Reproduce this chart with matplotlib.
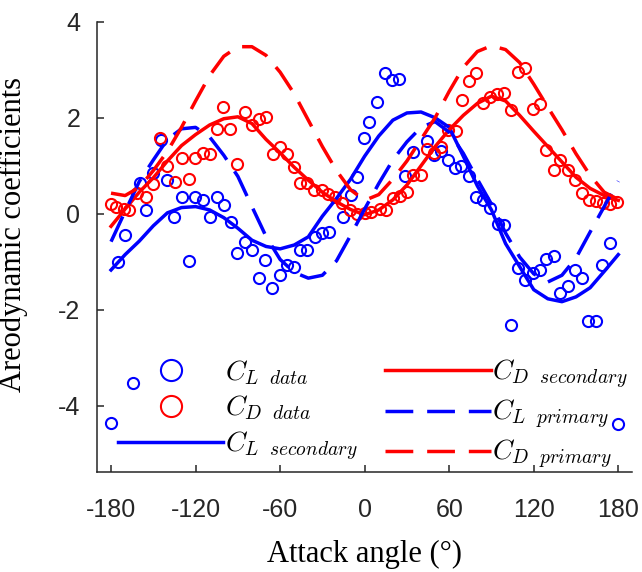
import numpy as np
import matplotlib
matplotlib.use('Agg')
import matplotlib.pyplot as plt

plt.rcParams['mathtext.fontset'] = 'cm'
plt.rcParams['axes.unicode_minus'] = False

# fitted curves, sampled every 10 degrees
ang = np.arange(-180, 181, 10)
cl_sec = [-1.17, -0.85, -0.57, -0.25, 0.02, 0.13, 0.15, 0.08, -0.08, -0.30,
          -0.55, -0.68, -0.73, -0.65, -0.48, -0.05, 0.32, 0.72, 1.20, 1.62,
          1.95, 2.10, 2.12, 2.00, 1.80, 1.20, 0.58, 0.08, -0.62, -1.10,
          -1.58, -1.77, -1.83, -1.73, -1.54, -1.20, -0.85]
cd_sec = [-0.26, 0.10, 0.45, 0.75, 1.10, 1.42, 1.65, 1.85, 1.98, 2.02,
          1.88, 1.55, 1.27, 0.97, 0.70, 0.45, 0.25, 0.09, -0.02, 0.08,
          0.29, 0.60, 1.00, 1.40, 1.75, 2.05, 2.30, 2.45, 2.35, 2.05,
          1.72, 1.40, 1.08, 0.76, 0.53, 0.38, 0.28]
cl_pri = [-0.58, 0.05, 0.67, 1.12, 1.55, 1.77, 1.80, 1.60, 1.22, 0.78,
          0.15, -0.47, -0.95, -1.22, -1.34, -1.28, -0.98, -0.45, 0.10, 0.63,
          1.12, 1.50, 1.80, 1.92, 1.70, 1.26, 0.72, 0.20, -0.40, -0.90,
          -1.25, -1.42, -1.28, -0.92, -0.38, 0.15, 0.68]
cd_pri = [0.43, 0.38, 0.55, 0.90, 1.30, 1.80, 2.35, 2.88, 3.28, 3.48,
          3.48, 3.30, 2.95, 2.50, 1.95, 1.40, 0.90, 0.50, 0.28, 0.40,
          0.72, 1.10, 1.55, 2.00, 2.55, 3.05, 3.38, 3.50, 3.42, 3.15,
          2.70, 2.22, 1.75, 1.25, 0.80, 0.45, 0.30]

# measured data
cl_ang = [-180, -175.1, -170.3, -164.7, -159.7, -154.9, -150.2, -144.5, -140.1, -135.1,
          -129.9, -124.6, -120.5, -114.5, -109.8, -105.0, -99.8, -94.8, -90.9, -84.8,
          -80.0, -75.3, -70.6, -65.8, -60.1, -54.9, -50.1, -45.6, -40.6, -34.9,
          -30.1, -25.2, -15.7, -10.0, -5.2, -0.7, 2.9, 9.1, 14.3, 19.5,
          24.2, 28.5, 34.0, 44.2, 49.4, 54.2, 59.2, 63.9, 68.6, 73.8,
          79.1, 84.2, 89.1, 94.3, 99.1, 104.1, 109.1, 113.5, 119.5, 124.2,
          128.8, 134.1, 138.8, 144.0, 149.2, 154.0, 158.7, 164.4, 168.2, 173.9,
          180]
cl_val = [-4.35, -1.01, -0.44, -3.52, 0.64, 0.08, 0.85, 1.54, 0.71, -0.06,
          0.35, -0.99, 0.35, 0.29, -0.06, 0.36, 0.19, -0.18, -0.82, -0.58,
          -0.75, -1.33, -0.96, -1.54, -1.28, -1.07, -1.10, -0.75, -0.75, -0.49,
          -0.40, -0.37, -0.07, 0.39, 0.76, 1.58, 1.92, 2.33, 2.94, 2.79,
          2.81, 0.78, 1.29, 1.51, 1.23, 1.30, 1.12, 0.95, 1.00, 0.79,
          0.36, 0.29, 0.12, -0.22, -0.23, -2.32, -1.12, -1.37, -1.24, -1.16,
          -0.94, -0.87, -1.65, -1.51, -1.16, -1.33, -2.24, -2.24, -1.06, -0.60,
          -4.38]
cd_ang = [-180, -176.3, -171.1, -167.5, -161.4, -155.4, -150.2, -145.5, -140.6, -134.7,
          -129.9, -124.7, -120.2, -114.9, -109.8, -105.0, -100.3, -95.5, -90.9, -85.0,
          -80.3, -75.3, -70.3, -65.4, -59.9, -55.1, -50.1, -45.6, -40.6, -35.9,
          -30.5, -25.8, -20.7, -15.9, -10.7, -5.2, 0.0, 4.3, 10.7, 15.0,
          20.3, 25.1, 29.8, 34.6, 39.9, 44.0, 49.4, 54.2, 58.9, 64.5,
          69.4, 74.1, 79.1, 84.1, 88.9, 93.7, 98.7, 104.1, 108.8, 113.8,
          119.5, 124.2, 129.0, 134.1, 138.8, 144.0, 149.0, 154.0, 158.9, 164.3,
          169.4, 174.1, 178.9]
cd_val = [0.21, 0.14, 0.09, 0.08, 0.43, 0.34, 0.62, 1.58, 1.00, 0.66,
          1.16, 0.73, 1.16, 1.26, 1.25, 1.76, 2.23, 1.76, 1.03, 2.11,
          1.84, 1.98, 2.01, 1.25, 1.39, 1.24, 0.97, 0.65, 0.65, 0.50,
          0.49, 0.42, 0.36, 0.23, 0.08, 0.00, 0.01, 0.04, 0.10, 0.08,
          0.32, 0.38, 0.46, 0.81, 0.81, 1.35, 1.26, 1.40, 1.75, 1.72,
          2.37, 2.76, 2.93, 2.31, 2.43, 2.50, 2.52, 2.17, 2.96, 3.03,
          2.19, 2.29, 1.33, 0.91, 1.12, 0.92, 0.70, 0.44, 0.29, 0.26,
          0.22, 0.21, 0.24]

fig = plt.figure(figsize=(6.42, 5.72), dpi=100)
ax = fig.add_axes([0.151, 0.175, 0.834, 0.787])

mk = dict(marker='o', ms=8, mfc='none', mew=1.5, ls='none')
lw = 2.5
dash = (0, (8, 4))
ax.plot(cl_ang, cl_val, mec='b', label=r'$C_{L\ \ data}$', **mk)
ax.plot(cd_ang, cd_val, mec='r', label=r'$C_{D\ \ data}$', **mk)
ax.plot(ang, cl_sec, color='b', lw=lw, label=r'$C_{L\ \ secondary}$')
ax.plot(ang, cd_sec, color='r', lw=lw, label=r'$C_{D\ \ secondary}$')
ax.plot(ang, cl_pri, color='b', lw=lw, ls=dash, label=r'$C_{L\ \ primary}$')
ax.plot(ang, cd_pri, color='r', lw=lw, ls=dash, label=r'$C_{D\ \ primary}$')

ax.set_xlim(-190, 190)
ax.set_ylim(-5.375, 4)
ax.set_xticks([-180, -120, -60, 0, 60, 120, 180])
ax.set_yticks([-4, -2, 0, 2, 4])
for s in ['top', 'right']:
    ax.spines[s].set_visible(False)
for s in ['left', 'bottom']:
    ax.spines[s].set_color('#262626')
    ax.spines[s].set_linewidth(1.1)
ax.tick_params(direction='in', length=5, width=1.1, color='#262626', pad=12,
               labelsize=18, labelcolor='#262626')
ax.tick_params(axis='x', pad=19)
for t in ax.get_xticklabels() + ax.get_yticklabels():
    t.set_fontfamily('Liberation Sans')

ax.set_xlabel('Attack angle (°)', fontsize=22, family='Liberation Serif', labelpad=13)
ax.set_ylabel('Areodynamic coefficients', fontsize=22, family='Liberation Serif')
ax.yaxis.set_label_coords(-0.128, 0.527)

ax.legend(ncol=2, loc='lower left', bbox_to_anchor=(0.162, 0.152),
          bbox_transform=fig.transFigure, frameon=False,
          fontsize=20, handlelength=3.8, handletextpad=0.05, columnspacing=1.0,
          labelspacing=0.25, markerscale=1.9, borderpad=0.0)

fig.savefig('out.png', dpi=100)
